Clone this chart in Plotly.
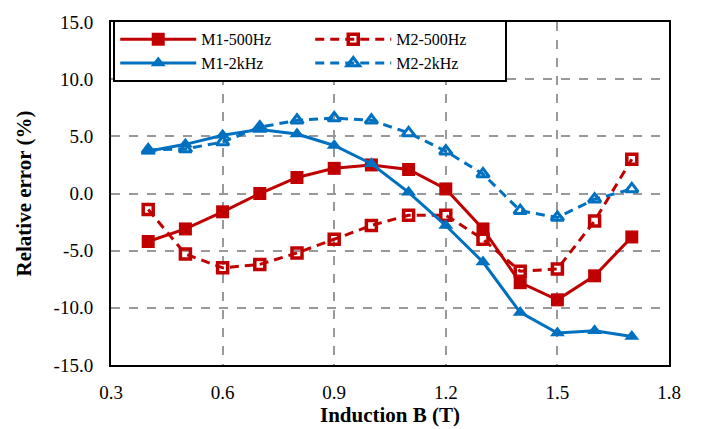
import plotly.graph_objects as go

B = [0.4, 0.5, 0.6, 0.7, 0.8, 0.9, 1.0, 1.1, 1.2, 1.3, 1.4, 1.5, 1.6, 1.7]
m1_500 = [-4.2, -3.1, -1.6, 0.0, 1.4, 2.2, 2.5, 2.1, 0.4, -3.1, -7.8, -9.3, -7.2, -3.8]
m2_500 = [-1.4, -5.3, -6.5, -6.2, -5.2, -4.0, -2.8, -1.9, -1.9, -4.0, -6.8, -6.6, -2.4, 3.0]
m1_2k = [3.7, 4.3, 5.1, 5.6, 5.2, 4.2, 2.6, 0.1, -2.8, -6.0, -10.4, -12.2, -12.0, -12.5]
m2_2k = [3.8, 3.9, 4.5, 5.8, 6.4, 6.6, 6.4, 5.3, 3.7, 1.7, -1.5, -2.1, -0.5, 0.4]

x_ticks = [0.3, 0.6, 0.9, 1.2, 1.5, 1.8]
x_labels = ["0.3", "0.6", "0.9", "1.2", "1.5", "1.8"]
y_ticks = [-15, -10, -5, 0, 5, 10, 15]
y_labels = ["-15.0", "-10.0", "-5.0", "0.0", "5.0", "10.0", "15.0"]

RED = "#C00000"
BLUE = "#0070C0"
FONT = "Liberation Serif"

fig = go.Figure()
fig.add_trace(go.Scatter(x=B, y=m1_500, name="M1-500Hz", mode="lines+markers",
                         line=dict(color=RED, width=3),
                         marker=dict(symbol="square", size=13, color=RED)))
fig.add_trace(go.Scatter(x=B, y=m2_500, name="M2-500Hz", mode="lines+markers",
                         line=dict(color=RED, width=3, dash="9px,6px"),
                         marker=dict(symbol="square-open", size=10, color=RED, line=dict(width=3.5, color=RED))))
fig.add_trace(go.Scatter(x=B, y=m1_2k, name="M1-2kHz", mode="lines+markers",
                         line=dict(color=BLUE, width=3),
                         marker=dict(symbol="triangle-up", size=13, color=BLUE)))
fig.add_trace(go.Scatter(x=B, y=m2_2k, name="M2-2kHz", mode="lines+markers",
                         line=dict(color=BLUE, width=3, dash="9px,6px"),
                         marker=dict(symbol="triangle-up-open", size=11, color=BLUE, line=dict(width=3, color=BLUE))))

fig.update_layout(
    width=704, height=429,
    margin=dict(l=111, r=35, t=18, b=62),
    plot_bgcolor="white", paper_bgcolor="white",
    font=dict(family=FONT, size=19, color="black"),
    legend=dict(x=0.004, y=1.005, xanchor="left", yanchor="top", orientation="h",
                entrywidth=104, itemwidth=76, bgcolor="white",
                bordercolor="black", borderwidth=2,
                font=dict(family=FONT, size=16, color="black")),
    showlegend=True,
)
fig.update_xaxes(range=[0.3, 1.8], tickvals=x_ticks, ticktext=x_labels,
                 tickfont=dict(family=FONT, size=19, color="black"),
                 showgrid=True, gridcolor="#999999", griddash="dash", gridwidth=1.5,
                 showline=True, linecolor="black", linewidth=2, mirror=True,
                 ticks="", zeroline=False, ticklabelstandoff=9,
                 title=dict(text="<b>Induction B (T)</b>", standoff=0,
                            font=dict(family=FONT, size=21, color="black")))
fig.update_yaxes(range=[-15, 15], tickvals=y_ticks, ticktext=y_labels,
                 tickfont=dict(family=FONT, size=19, color="black"),
                 showgrid=True, gridcolor="#999999", griddash="dash", gridwidth=1.5,
                 showline=True, linecolor="black", linewidth=2, mirror=True,
                 ticks="", zeroline=False, ticklabelstandoff=12,
                 title=dict(text="<b>Relative error (%)</b>", standoff=16,
                            font=dict(family=FONT, size=21, color="black")))

fig.write_html("out.html")
